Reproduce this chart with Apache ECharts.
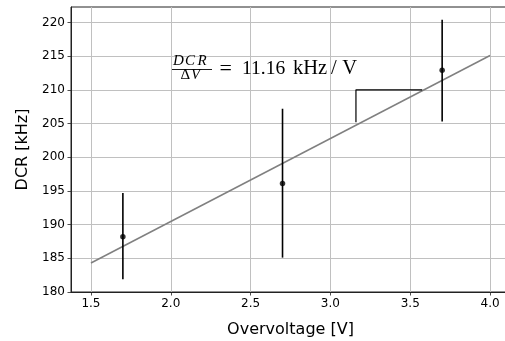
<!DOCTYPE html>
<html><head><meta charset="utf-8">
<script src="https://cdn.jsdelivr.net/npm/echarts@6/dist/echarts.min.js"></script>
<style>html,body{margin:0;padding:0;background:#fff}#c{width:505px;height:341px}</style>
</head><body><div id="c"></div>
<script>
// Measured data
const voltages = [1.7, 2.7, 3.7];
const dcr = [188.2, 196.1, 212.9];
const dcrErrLow = [181.9, 185.1, 205.3];
const dcrErrHigh = [194.7, 207.2, 220.4];
// Linear fit endpoints
const fitX = [1.5, 4.0];
const fitY = [184.3, 215.1];
// Slope indicator
const slopeX = [3.16, 3.16, 3.575];
const slopeY = [205.2, 210, 210];
// Ticks
const xTicks = [1.5, 2.0, 2.5, 3.0, 3.5, 4.0];
const yTicks = [180, 185, 190, 195, 200, 205, 210, 215, 220];

const chart = echarts.init(document.getElementById('c'), null, {renderer: 'canvas'});
const sans = 'DejaVu Sans';
const serif = 'Liberation Serif';
function txt(x, y, s, font, align) {
  return {type: 'text', z: 100, style: {x: x, y: y, text: s, font: font, fill: '#000', align: align || 'left', verticalAlign: 'middle'}};
}
const it15 = 'italic 15px ' + serif;
chart.setOption({
  animation: false,
  backgroundColor: '#fff',
  grid: {left: 71, top: 7, right: -5, bottom: 49, outerBoundsMode: 'none', show: true, borderColor: '#222', borderWidth: 1, containLabel: false},
  xAxis: {
    type: 'value', min: 1.375, max: 4.125,
    name: 'Overvoltage [V]', nameLocation: 'middle', nameGap: 30,
    nameTextStyle: {fontFamily: sans, fontSize: 16, color: '#000'},
    axisLine: {show: true, onZero: false, lineStyle: {color: '#222', width: 1}},
    axisTick: {show: true, length: 3.5, lineStyle: {color: '#222', width: 0.8}, customValues: xTicks},
    axisLabel: {fontFamily: sans, fontSize: 12, color: '#000', margin: 6, customValues: xTicks,
      formatter: v => v.toFixed(1)},
    splitLine: {show: true, lineStyle: {color: '#c0c0c0', width: 1}}
  },
  yAxis: {
    type: 'value', min: 180, max: 222.3,
    name: 'DCR [kHz]', nameLocation: 'middle', nameGap: 40,
    nameTextStyle: {fontFamily: sans, fontSize: 16, color: '#000'},
    axisLine: {show: true, onZero: false, lineStyle: {color: '#222', width: 1}},
    axisTick: {show: true, length: 3.5, lineStyle: {color: '#222', width: 0.8}, customValues: yTicks},
    axisLabel: {fontFamily: sans, fontSize: 12, color: '#000', margin: 6, customValues: yTicks},
    splitLine: {show: true, lineStyle: {color: '#c0c0c0', width: 1}}
  },
  series: [
    {
      type: 'line', data: fitX.map((x, i) => [x, fitY[i]]), symbol: 'none',
      lineStyle: {color: '#808080', width: 1.5}, z: 3
    },
    {
      type: 'line', data: slopeX.map((x, i) => [x, slopeY[i]]), symbol: 'none',
      lineStyle: {color: '#000', width: 1.2}, z: 3
    },
    {
      type: 'custom',
      data: voltages.map((x, i) => [x, dcrErrLow[i], dcrErrHigh[i]]),
      renderItem: (params, api) => {
        const p1 = api.coord([api.value(0), api.value(1)]);
        const p2 = api.coord([api.value(0), api.value(2)]);
        return {type: 'line', shape: {x1: p1[0], y1: p1[1], x2: p2[0], y2: p2[1]},
          style: {stroke: '#000', lineWidth: 1.6}};
      }, z: 4
    },
    {
      type: 'scatter', data: voltages.map((x, i) => [x, dcr[i]]),
      symbol: 'circle', symbolSize: 5.5, itemStyle: {color: '#000'}, z: 5
    }
  ],
  graphic: [
    txt(173, 61, 'D', it15),
    txt(185, 61, 'C', it15),
    txt(197.5, 61, 'R', it15),
    {type: 'line', z: 100, shape: {x1: 172, y1: 69.5, x2: 212, y2: 69.5}, style: {stroke: '#000', lineWidth: 0.9}},
    txt(180.5, 75.5, 'Δ', '15px ' + serif),
    txt(191, 75.5, 'V', it15),
    txt(219.5, 69, '=', '22px ' + serif),
    txt(242, 69, '11.16', '19.5px ' + serif),
    txt(293, 69, 'kHz', '20.5px ' + serif),
    txt(331, 69, '/', '20.5px ' + serif),
    txt(357, 69, 'V', '20.5px ' + serif, 'right')
  ]
});
</script></body></html>
